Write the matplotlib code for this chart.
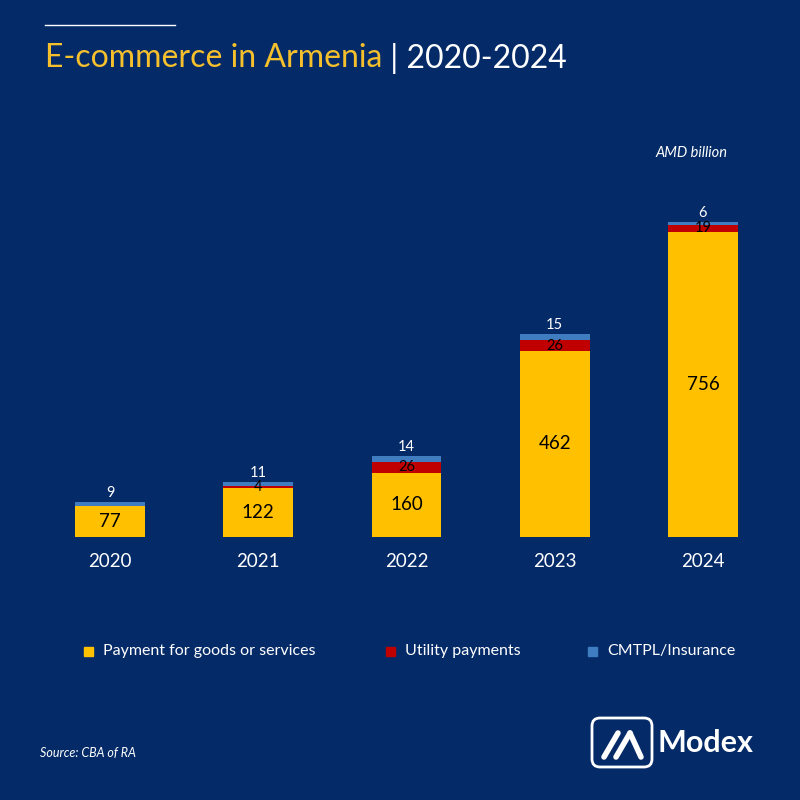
import matplotlib
matplotlib.use("Agg")
import matplotlib.pyplot as plt
from matplotlib.patches import FancyBboxPatch, Rectangle
from matplotlib.lines import Line2D

years = ["2020", "2021", "2022", "2023", "2024"]
goods = [77, 122, 160, 462, 756]
utility = [1, 4, 26, 26, 19]
insurance = [9, 11, 14, 15, 6]
utility_labels = ["", "4", "26", "26", "19"]
series_names = ["Payment for goods or services", "Utility payments", "CMTPL/Insurance"]

BG = "#042A68"
YEL = "#FFC000"
RED = "#C00000"
BLUE = "#3F7CC0"
TITLE_YEL = "#F5C02C"
FONT = "Lato"

fig = plt.figure(figsize=(8, 8), dpi=100, facecolor=BG)
ax = fig.add_axes([36/800, 1 - 537/800, 741/800, 387/800])
ax.set_facecolor(BG)
ax.set_xlim(-0.5, 4.5)
ax.set_ylim(0, 960)
for s in ax.spines.values():
    s.set_visible(False)
ax.set_xticks([])
ax.set_yticks([])

x = list(range(len(years)))
w = 0.47
ax.bar(x, goods, w, color=YEL, label=series_names[0])
ax.bar(x, utility, w, bottom=goods, color=RED, label=series_names[1])
bottoms3 = [g + u for g, u in zip(goods, utility)]
ax.bar(x, insurance, w, bottom=bottoms3, color=BLUE, label=series_names[2])

for i in x:
    ax.text(i, goods[i] / 2, str(goods[i]), ha="center", va="center",
            fontsize=13.5, color="black", family=FONT)
    if utility_labels[i]:
        ax.text(i, goods[i] + utility[i] / 2, utility_labels[i], ha="center", va="center",
                fontsize=10.5, color="black", family=FONT)
    top = bottoms3[i] + insurance[i]
    ax.text(i, top + 5, str(insurance[i]), ha="center", va="bottom",
            fontsize=10.5, color="white", family=FONT)
    ax.text(i, -62, years[i], ha="center", va="center", fontsize=13.5,
            color="white", family=FONT)

# title
fig.add_artist(Line2D([45/800, 175/800], [1 - 25/800, 1 - 25/800], color="white", lw=1))
t1 = fig.text(45/800, 1 - 58/800, "E-commerce in Armenia", color=TITLE_YEL,
              fontsize=23, family=FONT, va="center", ha="left")
fig.canvas.draw()
bb = t1.get_window_extent()
fig.text(bb.x1 / 800, 1 - 58/800, " | 2020-2024", color="white",
         fontsize=23, family=FONT, va="center", ha="left")

fig.text(727/800, 1 - 153/800, "AMD billion", color="white", fontsize=10.5,
         style="italic", family=FONT, ha="right", va="center")

# legend
leg_items = [(88, YEL, series_names[0]), (390, RED, series_names[1]), (592, BLUE, series_names[2])]
for px, col, name in leg_items:
    fig.add_artist(Rectangle((px/800 - 4/800, 1 - 656/800), 9/800, 9/800, color=col))
    fig.text((px + 15)/800, 1 - 651/800, name, color="white", fontsize=11.5,
             family=FONT, ha="left", va="center")

fig.text(40/800, 1 - 753/800, "Source: CBA of RA", color="white", fontsize=9,
         style="italic", family=FONT, ha="left", va="center")

# logo
fig.add_artist(FancyBboxPatch((592/800, 1 - 767/800), 60/800, 49/800,
                              boxstyle="round,pad=0,rounding_size=0.01",
                              fill=False, ec="white", lw=2))
fig.add_artist(Line2D([604/800, 618/800], [1 - 757/800, 1 - 733/800], color="white", lw=4, solid_capstyle="round"))
fig.add_artist(Line2D([616/800, 630/800], [1 - 757/800, 1 - 733/800], color="white", lw=4, solid_capstyle="round"))
fig.add_artist(Line2D([630/800, 641/800], [1 - 733/800, 1 - 757/800], color="white", lw=4, solid_capstyle="round"))
fig.text(658/800, 1 - 743/800, "Modex", color="white", fontsize=22, weight="bold",
         family=FONT, ha="left", va="center")

fig.savefig("out.png", dpi=100, facecolor=BG)
